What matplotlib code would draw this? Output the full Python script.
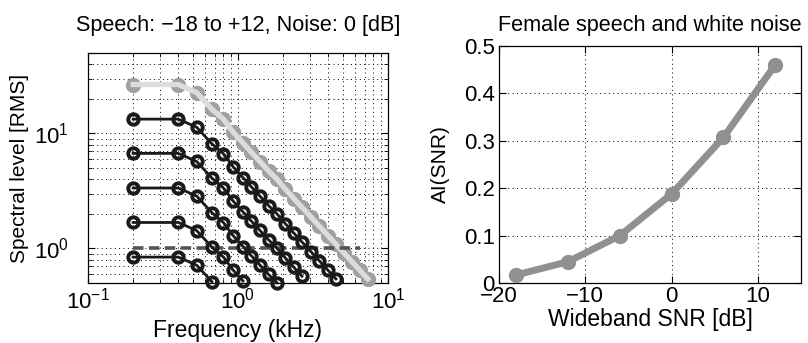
import numpy as np
import matplotlib
matplotlib.use("Agg")
import matplotlib.pyplot as plt
from matplotlib.ticker import LogLocator, NullFormatter

plt.rcParams['font.family'] = ['Liberation Sans', 'DejaVu Sans']
plt.rcParams['mathtext.fontset'] = 'custom'
plt.rcParams['mathtext.rm'] = 'Liberation Sans'
plt.rcParams['mathtext.it'] = 'Liberation Sans:italic'
plt.rcParams['font.size'] = 16

# band centre frequencies (kHz)
freqs = [0.2, 0.4, 0.53, 0.67, 0.8, 0.93, 1.08, 1.23, 1.4, 1.6, 1.82, 2.07,
         2.36, 2.67, 3.07, 3.49, 3.98, 4.5, 5.09, 5.75, 6.5, 7.33]
# speech spectrum shape relative to the low-frequency level
shape = [1.0, 1.0, 0.851, 0.610, 0.50, 0.384, 0.310, 0.257, 0.214, 0.177,
         0.150, 0.123, 0.102, 0.0855, 0.0703, 0.0585, 0.0485, 0.0408, 0.0342,
         0.0288, 0.0242, 0.0204]
# speech levels (RMS) for SNR -18, -12, -6, 0, +6 dB (black) and +12 dB (grey)
speech_levels = [0.84, 1.68, 3.35, 6.7, 13.3]
top_level = 26.6
noise_level = 1.0

# AI vs wideband SNR
snr_db = [-18, -12, -6, 0, 6, 12]
ai_snr = [0.017, 0.045, 0.10, 0.188, 0.307, 0.46]

freqs = np.array(freqs)
shape = np.array(shape)

fig = plt.figure(figsize=(8.08, 3.43), dpi=100)
ax1 = fig.add_axes([0.1089, 0.1749, 0.3713, 0.6706])
ax2 = fig.add_axes([0.6176, 0.1749, 0.3738, 0.691])

grid_kw = dict(color='black', linestyle=(0, (1, 3.5)), linewidth=0.7)

# --- left: spectra
for lev in speech_levels:
    y = lev * shape
    y = np.where(y >= 0.49, y, np.nan)
    ax1.plot(freqs, y, '-o', color='#1a1a1a', lw=2, ms=7.5, mfc='none',
             mec='#1a1a1a', mew=2.8, clip_on=False, zorder=4)

y = top_level * shape
y = np.where(y >= 0.49, y, np.nan)
ax1.plot(freqs, y, 'o', color='#a0a0a0', ms=10, mec='#a0a0a0', clip_on=False, zorder=3)
ax1.plot(freqs, y, '-', color='#dcdcdc', lw=3.8, clip_on=False, zorder=3.5)

ax1.plot(freqs[:-1], np.full(len(freqs) - 1, noise_level), '--', color='#555555',
         lw=2.6, dashes=(2.9, 1.5), zorder=3.8)

ax1.set_xscale('log')
ax1.set_yscale('log')
ax1.set_xlim(0.1, 10)
ax1.set_ylim(0.5, 50)
ax1.xaxis.set_minor_locator(LogLocator(base=10, subs=np.arange(2, 10)))
ax1.yaxis.set_minor_locator(LogLocator(base=10, subs=np.arange(2, 10)))
ax1.xaxis.set_minor_formatter(NullFormatter())
ax1.yaxis.set_minor_formatter(NullFormatter())
ax1.grid(True, which='both', **grid_kw)
ax1.set_axisbelow(True)
ax1.set_xlabel('Frequency (kHz)', fontsize=16.5, labelpad=4)
ax1.set_ylabel('Spectral level [RMS]', fontsize=15, labelpad=3)
ax1.set_title('Speech: \u221218 to +12, Noise: 0 [dB]', fontsize=15.6, pad=16)

# --- right: AI(SNR)
ax2.plot(snr_db, ai_snr, '-o', color='#909090', lw=5, ms=10, mec='#909090',
         clip_on=False, zorder=3)
ax2.set_xlim(-20, 15)
ax2.set_ylim(0, 0.5)
ax2.set_xticks([-20, -10, 0, 10])
ax2.set_xticklabels(['\u221220', '\u221210', '0', '10'])
ax2.set_yticks([0, 0.1, 0.2, 0.3, 0.4, 0.5])
ax2.set_yticklabels(['0', '0.1', '0.2', '0.3', '0.4', '0.5'])
ax2.grid(True, **grid_kw)
ax2.set_axisbelow(True)
ax2.set_xlabel('Wideband SNR [dB]', fontsize=16.5, labelpad=1)
ax2.set_ylabel('AI(SNR)', fontsize=15, labelpad=10)
ax2.set_title('Female speech and white noise', fontsize=15.6, pad=11)

for ax in (ax1, ax2):
    ax.tick_params(which='both', direction='in', top=True, right=True,
                   labelsize=16, pad=3)
    ax.tick_params(which='major', length=5)
    ax.tick_params(which='minor', length=3)
    for s in ax.spines.values():
        s.set_linewidth(0.9)
ax1.tick_params(axis='y', which='major', pad=14)
ax2.tick_params(axis='x', which='major', pad=2)

fig.savefig('out.png', dpi=100)
